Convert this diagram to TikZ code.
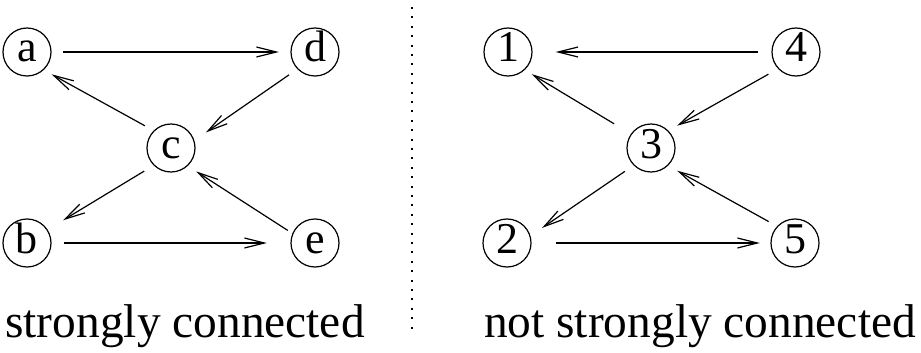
\documentclass[tikz,border=0pt]{standalone}
\usepackage{fontspec}
\setmainfont{Liberation Serif}
\usetikzlibrary{arrows.meta}

\tikzset{
    vtx/.style={draw, circle, line width=0.6pt, minimum size=24pt, inner sep=0pt,
        text height=10pt, text depth=0pt, font=\rmfamily\fontsize{22}{24}\selectfont},
    edge/.style={line width=0.6pt, -{Straight Barb[length=10pt, width=5pt]}},
    caption/.style={anchor=base, font=\rmfamily\fontsize{23.7}{28}\selectfont}
}

\begin{document}
\begin{tikzpicture}[x=0.5pt, y=-0.5pt]
    \useasboundingbox (0,0) rectangle (921,353);

    % Left graph (strongly connected)
    \foreach \n/\x/\y in {a/27/52, d/315/52, c/171/148, b/27/243, e/315/243}
        \node[vtx] (\n) at (\x,\y) {\n};

    \foreach \s/\sa/\sg/\t/\ta/\tg in {a/0/5.75pt/d/180/5.75pt, d/-136/5pt/c/18/7pt,
            c/135/5pt/a/-47/4.5pt, c/-135/5.5pt/b/33/9pt,
            b/0/6pt/e/180/11.75pt, e/157/2.75pt/c/-47/5pt}
        \draw[edge, shorten <=\sg, shorten >=\tg] (\s.\sa) -- (\t.\ta);

    % Right graph (not strongly connected)
    \foreach \n/\x/\y in {1/508/52, 4/796/52, 3/651/148, 2/507/243, 5/795/243}
        \node[vtx] (n\n) at (\x,\y) {\n};

    \foreach \s/\sa/\sg/\t/\ta/\tg in {4/180/6.85pt/1/0/11.5pt, 3/145/9.75pt/1/-47/4pt,
            4/-137/5.5pt/3/45/5pt, 3/-135/5.3pt/2/17/7pt,
            2/0/12pt/5/180/5.25pt, 5/137/4.8pt/3/-46/5.2pt}
        \draw[edge, shorten <=\sg, shorten >=\tg] (n\s.\sa) -- (n\t.\ta);

    % Separator
    \draw[line width=1pt, dash pattern=on 1pt off 3.7pt] (411.5,7) -- (411.5,335);

    % Captions
    \node[caption] (capl) at (185,337) {strongly connected};
    \node[caption] (capr) at (700,337) {not strongly connected};
\end{tikzpicture}
\end{document}
